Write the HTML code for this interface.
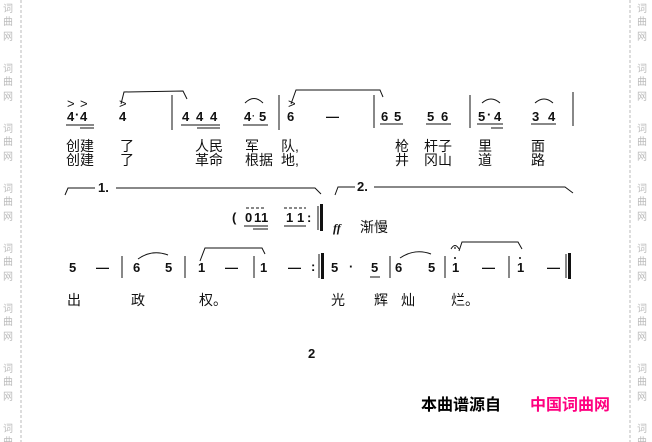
<!DOCTYPE html>
<html><head><meta charset="utf-8"><style>
html,body{margin:0;padding:0;background:#fff;width:652px;height:442px;overflow:hidden}
svg{display:block}
.n{font-family:"Liberation Sans",sans-serif;font-weight:bold;font-size:13px;fill:#111}
.l{font-family:"Liberation Sans","Noto Sans CJK SC",sans-serif;font-size:14px;fill:#111}
.w{font-family:"Noto Sans CJK SC",sans-serif;font-size:10px;fill:#bbb}
</style></head><body>
<svg width="652" height="442" viewBox="0 0 652 442" xmlns="http://www.w3.org/2000/svg">
<g stroke="#bbb" stroke-width="1" stroke-dasharray="3,2">
<line x1="21" y1="0" x2="21" y2="442"/><line x1="630" y1="0" x2="630" y2="442"/></g>
<g class="w">
<text x="3" y="12">词</text><text x="3" y="25">曲</text><text x="3" y="40">网</text>
<text x="3" y="72">词</text><text x="3" y="85">曲</text><text x="3" y="100">网</text>
<text x="3" y="132">词</text><text x="3" y="145">曲</text><text x="3" y="160">网</text>
<text x="3" y="192">词</text><text x="3" y="205">曲</text><text x="3" y="220">网</text>
<text x="3" y="252">词</text><text x="3" y="265">曲</text><text x="3" y="280">网</text>
<text x="3" y="312">词</text><text x="3" y="325">曲</text><text x="3" y="340">网</text>
<text x="3" y="372">词</text><text x="3" y="385">曲</text><text x="3" y="400">网</text>
<text x="3" y="432">词</text><text x="3" y="445">曲</text>
<text x="637" y="12">词</text><text x="637" y="25">曲</text><text x="637" y="40">网</text>
<text x="637" y="72">词</text><text x="637" y="85">曲</text><text x="637" y="100">网</text>
<text x="637" y="132">词</text><text x="637" y="145">曲</text><text x="637" y="160">网</text>
<text x="637" y="192">词</text><text x="637" y="205">曲</text><text x="637" y="220">网</text>
<text x="637" y="252">词</text><text x="637" y="265">曲</text><text x="637" y="280">网</text>
<text x="637" y="312">词</text><text x="637" y="325">曲</text><text x="637" y="340">网</text>
<text x="637" y="372">词</text><text x="637" y="385">曲</text><text x="637" y="400">网</text>
<text x="637" y="432">词</text><text x="637" y="445">曲</text>
</g>
<g class="n">
<text x="67" y="121">4</text><text x="75" y="119">·</text><text x="80" y="121">4</text>
<text x="119" y="121">4</text>
<text x="182" y="121">4</text><text x="196" y="121">4</text><text x="210" y="121">4</text>
<text x="244" y="121">4</text><text x="252" y="119" font-size="9">·</text><text x="259" y="121">5</text>
<text x="287" y="121">6</text><text x="326" y="121">—</text>
<text x="381" y="121">6</text><text x="394" y="121">5</text>
<text x="427" y="121">5</text><text x="441" y="121">6</text>
<text x="478" y="121">5</text><text x="487" y="119">·</text><text x="494" y="121">4</text>
<text x="532" y="121">3</text><text x="548" y="121">4</text>
<text x="67" y="108" font-weight="normal">&gt;</text><text x="80" y="108" font-weight="normal">&gt;</text>
<text x="119" y="108" font-weight="normal">&gt;</text><text x="288" y="108" font-weight="normal">&gt;</text>
</g>
<g stroke="#111" stroke-width="1" fill="none">
<line x1="172" y1="95" x2="172" y2="130"/><line x1="279" y1="95" x2="279" y2="130"/>
<line x1="374" y1="95" x2="374" y2="128"/><line x1="470" y1="95" x2="470" y2="128"/>
<line x1="573" y1="92" x2="573" y2="126"/>
<line x1="66" y1="125" x2="94" y2="125"/><line x1="80" y1="128" x2="94" y2="128"/>
<line x1="181" y1="125" x2="220" y2="125"/><line x1="197" y1="128" x2="220" y2="128"/>
<line x1="243" y1="125" x2="268" y2="125"/>
<line x1="380" y1="124" x2="403" y2="124"/><line x1="426" y1="124" x2="451" y2="124"/>
<line x1="477" y1="124" x2="503" y2="124"/><line x1="491" y1="128" x2="503" y2="128"/>
<line x1="531" y1="124" x2="556" y2="124"/>
<path d="M121 104 L124 92 L183 91 L187 99"/>
<path d="M291 104 L296 90 L380 90 L383 97"/>
<path d="M245 103 Q254 94 263 103"/>
<path d="M482 103 Q491 95 500 103"/>
<path d="M535 103 Q544 95 553 103"/>
</g>
<g class="l">
<text x="66" y="151">创建</text><text x="120" y="151">了</text><text x="195" y="151">人民</text><text x="245" y="151">军</text><text x="281" y="151">队,</text>
<text x="395" y="151">枪</text><text x="424" y="151">杆子</text><text x="478" y="151">里</text><text x="531" y="151">面</text>
<text x="66" y="165">创建</text><text x="120" y="165">了</text><text x="195" y="165">革命</text><text x="245" y="165">根据</text><text x="281" y="165">地,</text>
<text x="395" y="165">井</text><text x="424" y="165">冈山</text><text x="478" y="165">道</text><text x="531" y="165">路</text>
</g>
<g stroke="#111" stroke-width="1" fill="none">
<path d="M65 195 L68 188 L95 188"/><path d="M116 188 L315 188 L321 194"/>
<path d="M335 195 L338 187 L355 187"/><path d="M374 187 L565 187 L573 193"/>
</g>
<text class="n" x="98" y="192">1.</text><text class="n" x="357" y="191">2.</text>
<g class="n" font-weight="normal">
<text x="232" y="222">(</text><text x="245" y="222">0</text><text x="254" y="222">1</text><text x="261" y="222">1</text>
<text x="286" y="222">1</text><text x="297" y="222">1</text><text x="307" y="222">:</text>
</g>
<g stroke="#111" fill="none" stroke-width="1">
<line x1="244" y1="226" x2="268" y2="226"/><line x1="253" y1="229" x2="268" y2="229"/>
<line x1="246" y1="208" x2="266" y2="208" stroke-dasharray="3,2"/>
<line x1="284" y1="208" x2="306" y2="208" stroke-dasharray="3,2"/>
<line x1="284" y1="226" x2="306" y2="226"/>
<line x1="318" y1="206" x2="318" y2="230"/>
</g>
<rect x="320" y="204" width="3" height="27" fill="#111"/>
<text x="333" y="232" font-family="Liberation Serif" font-style="italic" font-weight="bold" font-size="12" fill="#111">ff</text>
<text class="l" x="360" y="232" font-size="12">渐慢</text>
<g class="n">
<text x="69" y="272">5</text><text x="96" y="272">—</text>
<text x="133" y="272">6</text><text x="165" y="272">5</text>
<text x="198" y="272">1</text><text x="225" y="272">—</text>
<text x="260" y="272">1</text><text x="288" y="272">—</text><text x="311" y="271">:</text>
<text x="331" y="272">5</text><text x="349" y="271">·</text><text x="371" y="272">5</text>
<text x="395" y="272">6</text><text x="428" y="272">5</text>
<text x="452" y="272">1</text><text x="482" y="272">—</text>
<text x="517" y="272">1</text><text x="547" y="272">—</text>
</g>
<g stroke="#111" fill="none" stroke-width="1">
<line x1="122" y1="256" x2="122" y2="278"/><line x1="185" y1="256" x2="185" y2="278"/>
<line x1="254" y1="256" x2="254" y2="278"/>
<line x1="319" y1="254" x2="319" y2="278"/>
<line x1="390" y1="256" x2="390" y2="278"/><line x1="445" y1="256" x2="445" y2="278"/>
<line x1="509" y1="256" x2="509" y2="278"/>
<line x1="566" y1="254" x2="566" y2="278"/>
<line x1="370" y1="277" x2="380" y2="277"/>
<path d="M138 259 Q152 249 168 255"/>
<path d="M200 261 L205 248 L262 248 L265 254"/>
<path d="M400 258 Q415 248 431 254"/>
<path d="M459 251 L462 242 L518 242 L522 249"/>
<path d="M451 249 Q455 242 459 249"/>
</g>
<rect x="321" y="253" width="3" height="26" fill="#111"/>
<rect x="568" y="253" width="3" height="26" fill="#111"/>
<circle cx="455" cy="248" r="0.9" fill="#111"/><circle cx="455" cy="258" r="1" fill="#111"/>
<circle cx="520" cy="258" r="1" fill="#111"/>
<g class="l">
<text x="67" y="305">出</text><text x="131" y="305">政</text><text x="199" y="305">权。</text>
<text x="331" y="305">光</text><text x="374" y="305">辉</text><text x="401" y="305">灿</text><text x="451" y="305">烂。</text>
</g>
<text class="n" x="308" y="358">2</text>
<text x="421" y="410" font-family="Noto Sans CJK SC,sans-serif" font-weight="bold" font-size="16" fill="#000">本曲谱源自</text>
<text x="530" y="410" font-family="Noto Sans CJK SC,sans-serif" font-weight="bold" font-size="16" fill="#ff0080">中国词曲网</text>
</svg>
</body></html>
